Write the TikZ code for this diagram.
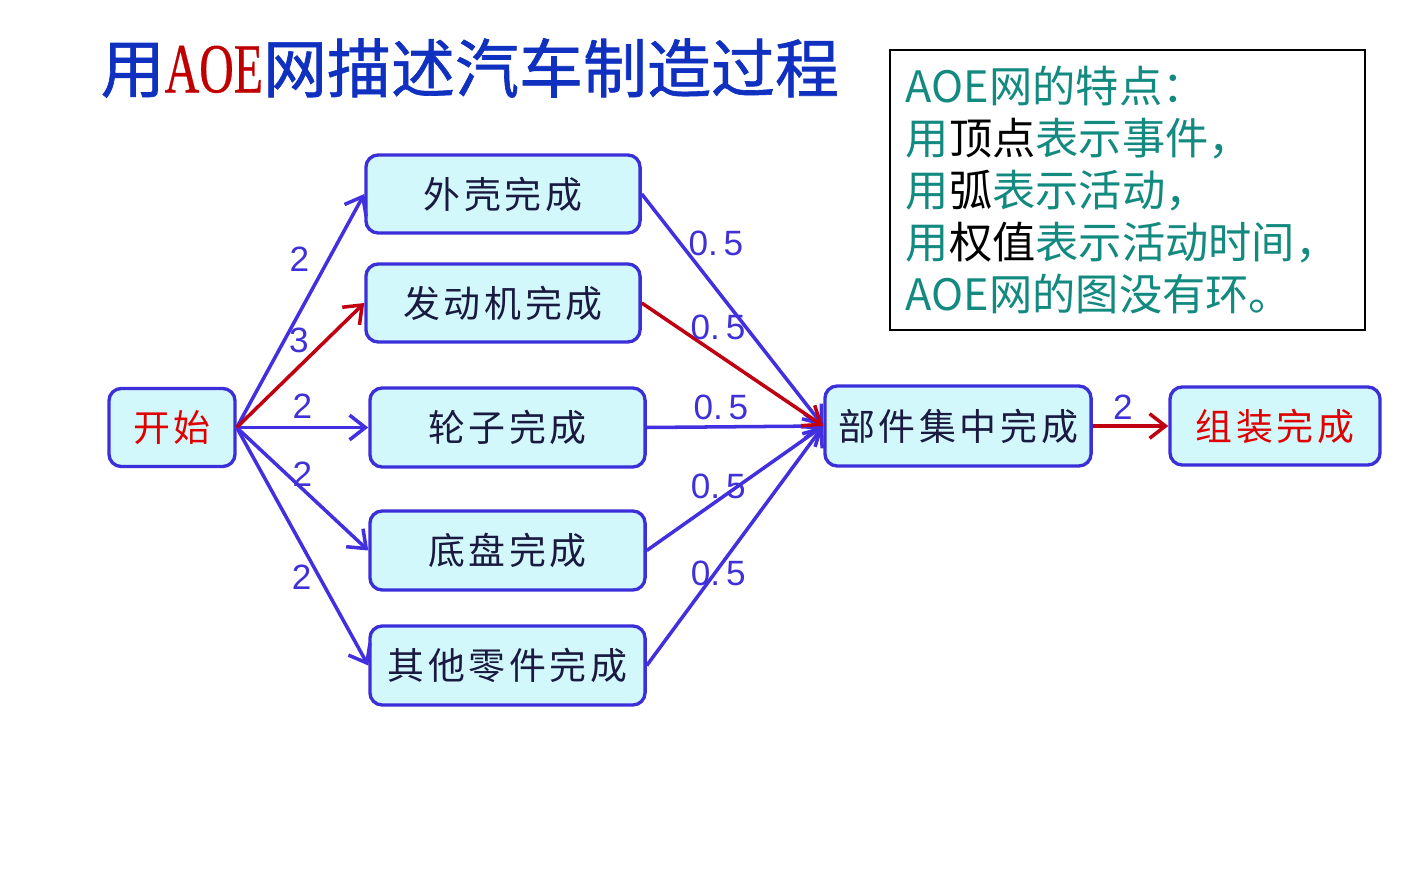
\documentclass[tikz,border=0pt]{standalone}
\usepackage{fontspec}
\usepackage{graphicx}
\usepackage{xcolor}
\setmainfont{Noto Sans CJK SC}
\newfontfamily\nodecjk[LetterSpace=10]{Noto Sans CJK SC}
\newfontfamily\titlecjk[FakeBold=1.0]{Noto Sans CJK SC}
\newfontfamily\titleserif[FakeBold=0.6]{Liberation Serif}
\newfontfamily\wtsans{Liberation Sans}
\usetikzlibrary{arrows.meta}
\definecolor{evblue}{HTML}{3A2FD8}
\definecolor{evfill}{HTML}{D2F8FC}
\definecolor{evtext}{HTML}{1A1A40}
\definecolor{actblue}{HTML}{4230E0}
\definecolor{critred}{HTML}{C00010}
\definecolor{wtblue}{HTML}{4030D8}
\definecolor{startred}{HTML}{E00000}
\definecolor{titleblue}{HTML}{1030C0}
\definecolor{titlered}{HTML}{C00000}
\definecolor{infoteal}{HTML}{138A80}

\begin{document}
\begin{tikzpicture}[x=0.01cm, y=-0.01cm,
    event/.style={rounded corners=3.5pt, draw=evblue, fill=evfill, line width=0.95pt,
        minimum height=0.78cm, minimum width=2.74cm, inner sep=0pt,
        font=\nodecjk\fontsize{10.5}{12}\selectfont, text=evtext},
    act/.style={-{Straight Barb[length=4.5pt, width=7pt]}, line width=1pt, actblue},
    crit/.style={act, critred},
    wt/.style={font=\wtsans\fontsize{10}{11}\selectfont, text=wtblue, inner sep=0pt},
]
\useasboundingbox (0,0) rectangle (1427,882);

% ===== Title =====
\node[anchor=west, inner sep=0pt, font=\titlecjk\fontsize{18.2}{20}\selectfont, text=titleblue] (title) at (100,68)
  {用{\color{titlered}\titleserif\fontsize{20}{20}\selectfont\scalebox{0.68}[1]{AOE}}网描述汽车制造过程};

% ===== Traits box =====
\node[draw=black, line width=0.65pt, fill=white, minimum width=4.75cm, minimum height=2.8cm,
    text width=4.43cm, inner xsep=0.16cm, align=left,
    font=\fontsize{12.3}{14.8}\selectfont, text=infoteal] (traits) at (1127.5,190)
  {AOE网的特点：\\
   用{\color{black}顶点}表示事件，\\
   用{\color{black}弧}表示活动，\\
   用{\color{black}权值}表示活动时间，\\
   AOE网的图没有环。};

% ===== Events =====
\node[event, minimum width=1.26cm, text=startred] (start) at (172,427.5) {开始};
\node[event] (shell) at (503,194) {外壳完成};
\node[event] (engine) at (503,303) {发动机完成};
\node[event, minimum width=2.75cm, minimum height=0.79cm] (wheel) at (507.5,427.5) {轮子完成};
\node[event, minimum width=2.75cm, minimum height=0.79cm] (chassis) at (507.5,550.5) {底盘完成};
\node[event, minimum width=2.75cm, minimum height=0.79cm] (others) at (507.5,665.5) {其他零件完成};
\node[event, minimum width=2.66cm, minimum height=0.8cm] (gather) at (958,426) {部件集中完成};
\node[event, minimum width=2.1cm, text=startred] (assemble) at (1275,426) {组装完成};

% ===== Activities out of start =====
\draw[act] (start.east) -- (shell.west) node[wt, pos=0.72, xshift=-8.3pt] {2};
\draw[act] (start.east) -- (wheel.west) node[wt, midway, yshift=6pt] {2};
\draw[act] (start.east) -- (chassis.west) node[wt, midway, yshift=4.3pt] {2};
\draw[act] (start.east) -- (others.west) node[wt, pos=0.63, xshift=-5.1pt] {2};
\draw[crit] (start.east) -- (engine.west) node[wt, pos=0.70, xshift=-7.7pt] {3};

% ===== Activities into gather =====
\draw[act] (shell.east) -- (gather.west) node[wt, pos=0.215, xshift=10pt] {0.\,5};
\draw[act] (wheel.east) -- (gather.west) node[wt, pos=0.42, yshift=5.4pt] {0.\,5};
\draw[act] (chassis.east) -- (gather.west) node[wt, pos=0.405, yshift=4pt] {0.\,5};
\draw[act] (others.east) -- (gather.west) node[wt, pos=0.405, yshift=-1.4pt] {0.\,5};
\draw[crit] (engine.east) -- (gather.west) node[wt, pos=0.42, yshift=7.7pt] {0.\,5};

% ===== Final assembly =====
\draw[crit] (gather.east) -- (assemble.west) node[wt, pos=0.4, yshift=5.4pt] {2};

\end{tikzpicture}
\end{document}
